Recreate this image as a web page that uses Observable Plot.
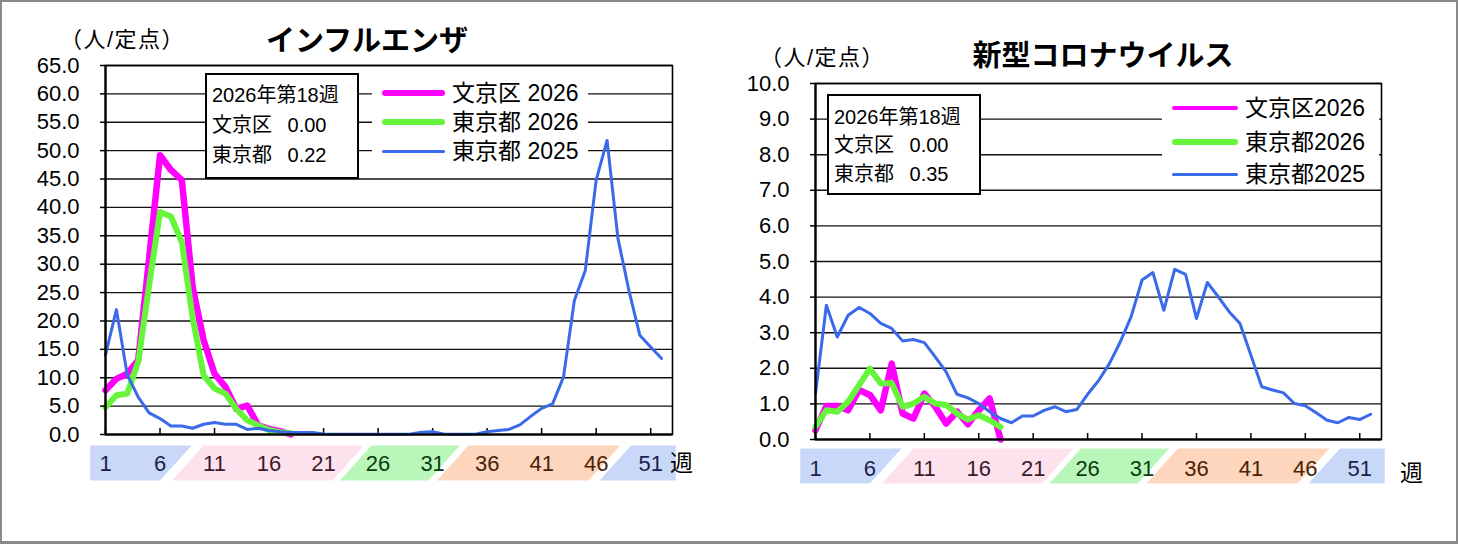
<!DOCTYPE html>
<html><head><meta charset="utf-8">
<script src="https://cdn.jsdelivr.net/npm/d3@7"></script>
<script src="https://cdn.jsdelivr.net/npm/@observablehq/plot@0.6"></script>
<style>
body{margin:0;background:#fff;}
#wrap{position:relative;width:1458px;height:544px;overflow:hidden;background:#fff;font-family:"Liberation Sans","Noto Sans CJK JP",sans-serif;color:#000;}
#frame{position:absolute;left:0;top:0;width:1458px;height:544px;box-sizing:border-box;border:2px solid #8a8a8a;border-bottom-width:3px;pointer-events:none;}
.abs{position:absolute;white-space:nowrap;}
.chart{position:absolute;top:0;}
.title{font-family:"Noto Sans CJK JP",sans-serif;font-weight:bold;font-size:29px;line-height:32px;transform:translateX(-50%);}
.unit{font-size:22px;line-height:22px;letter-spacing:1.5px;}
.box{background:#fff;border:2.5px solid #000;box-sizing:border-box;}
.boxt{font-size:20px;line-height:22px;}
.leg{background:#fff;}
.legt{font-size:23px;line-height:25px;}
.legl{height:6px;border-radius:3px;}
.wk{font-size:23px;line-height:25px;}
</style></head>
<body>
<div id="wrap"></div>
<script>
// ---------- data ----------
const tickWeeks = [1, 6, 11, 16, 21, 26, 31, 36, 41, 46, 51];
const fluTicks = [0, 5, 10, 15, 20, 25, 30, 35, 40, 45, 50, 55, 60, 65];
const covidTicks = [0, 1, 2, 3, 4, 5, 6, 7, 8, 9, 10];

const fluBunkyo2026 = [7.8, 9.8, 10.7, 13.1, 31.0, 49.2, 46.6, 44.8, 25.9, 16.6, 10.7, 8.4, 4.5, 5.1, 1.6, 1.0, 0.6, 0.0];
const fluTokyo2026 = [4.8, 6.9, 7.2, 12.8, 26.3, 39.2, 38.4, 33.9, 20.5, 10.4, 8.1, 7.2, 4.5, 2.5, 1.6, 0.8, 0.4, 0.22];
const fluTokyo2025 = [14.0, 22.0, 10.5, 6.6, 3.8, 2.8, 1.5, 1.5, 1.1, 1.8, 2.1, 1.8, 1.8, 0.9, 1.1, 0.7, 0.5, 0.35, 0.35, 0.35,
  0.1, 0.05, 0.05, 0.05, 0.05, 0.05, 0.05, 0.05, 0.1, 0.4, 0.5, 0.1, 0.05, 0.05, 0.1, 0.5, 0.7, 0.9, 1.7, 3.2,
  4.6, 5.4, 10.1, 23.6, 28.9, 44.8, 51.8, 34.5, 25.4, 17.5, 15.4, 13.4];

const covidBunkyo2026 = [0.26, 0.94, 0.94, 0.82, 1.39, 1.25, 0.82, 2.13, 0.73, 0.59, 1.29, 0.92, 0.45, 0.78, 0.43, 0.82, 1.15, 0.00];
const covidTokyo2026 = [0.36, 0.82, 0.78, 1.06, 1.53, 1.99, 1.57, 1.59, 0.92, 1.01, 1.20, 1.01, 0.97, 0.73, 0.56, 0.68, 0.54, 0.35];
const covidTokyo2025 = [1.29, 3.77, 2.88, 3.49, 3.71, 3.54, 3.26, 3.12, 2.77, 2.81, 2.72, 2.32, 1.90, 1.27, 1.17, 1.01, 0.78, 0.59, 0.47, 0.66,
  0.66, 0.82, 0.92, 0.78, 0.84, 1.27, 1.65, 2.13, 2.74, 3.45, 4.48, 4.69, 3.63, 4.78, 4.64, 3.40, 4.41, 4.01, 3.59, 3.26,
  2.37, 1.48, 1.39, 1.31, 1.01, 0.95, 0.75, 0.54, 0.47, 0.62, 0.56, 0.71];

// seasonal bands under the x axis (bottom-left / bottom-right week)
const seasonNames = ["冬", "春", "夏", "秋", "冬"];
const seasonFrom = [-0.4, 7.1, 22.5, 31.4, 46.3];
const seasonTo = [6.0, 21.8, 30.6, 45.3, 53.3];
const seasonFill = ["#c9d8f8", "#fde2ee", "#b9f6b9", "#fdd6bd", "#c9d8f8"];
const seasonText = ["#1a1f4d", "#3b1a2b", "#0c3d0c", "#4a2206", "#1a1f4d"];

const legendNames = ["文京区 2026", "東京都 2026", "東京都 2025"];
const legendNamesCovid = ["文京区2026", "東京都2026", "東京都2025"];
const seriesColors = ["#ff00ff", "#66f53a", "#3a6aeb"];
const seriesWidths = [6.5, 6, 3];

// ---------- helpers ----------
const toPts = arr => arr.map((v, i) => ({week: i + 1, value: v}));
const wrap = document.getElementById("wrap");
function addDiv(cls, text, style) {
  const d = document.createElement("div");
  d.className = "abs " + cls;
  if (text != null) d.textContent = text;
  Object.assign(d.style, style);
  wrap.appendChild(d);
  return d;
}

function makeChart(o) {
  const W = 729, H = 544;
  const plotH = H - o.mt - o.mb;
  const unit = o.ymax / plotH; // data units per pixel
  const yb = -o.bandBottom * unit, yt = -o.bandTop * unit, ym = (yb + yt) / 2;
  const slant = 2.9;
  const last = seasonFrom.length - 1;
  const marks = [];
  // bands
  seasonFrom.forEach((from, i) => {
    const to = seasonTo[i];
    const pts = [
      {x: from, y: yb},
      {x: to, y: yb},
      {x: i === last ? to : to + slant, y: yt},
      {x: i === 0 ? from : from + slant, y: yt}
    ];
    marks.push(Plot.line(pts, {x: "x", y: "y", fill: seasonFill[i], stroke: null, curve: "linear-closed"}));
  });
  const labelColor = w => {
    for (let i = 0; i < seasonFrom.length; i++) if (w <= seasonTo[i] + slant / 2) return seasonText[i];
    return seasonText[last];
  };
  marks.push(Plot.text(tickWeeks, {x: d => d, y: ym, text: d => String(d), fill: d => labelColor(d),
    fontSize: 22, dy: o.labelDy, fontFamily: "Liberation Sans"}));
  // grid
  marks.push(Plot.ruleY(o.ticks, {y: d => d, stroke: "#111", strokeWidth: 1.4}));
  // x ticks (inward)
  marks.push(Plot.ruleX(tickWeeks, {x: d => d, y1: 0, y2: 6 * unit, stroke: "#000", strokeWidth: 1.5}));
  // series
  marks.push(Plot.line(toPts(o.s1), {x: "week", y: "value", stroke: seriesColors[0], strokeWidth: seriesWidths[0], strokeLinejoin: "round"}));
  marks.push(Plot.line(toPts(o.s2), {x: "week", y: "value", stroke: seriesColors[1], strokeWidth: seriesWidths[1], strokeLinejoin: "round"}));
  marks.push(Plot.line(toPts(o.s3), {x: "week", y: "value", stroke: seriesColors[2], strokeWidth: seriesWidths[2], strokeLinejoin: "round"}));
  // frame & axes
  marks.push(Plot.frame({stroke: "#000", strokeWidth: 1.6}));
  marks.push(Plot.ruleX([1], {x: d => d, y1: 0, y2: o.ymax, stroke: "#000", strokeWidth: 2.2}));
  marks.push(Plot.ruleY([0], {y: d => d, stroke: "#000", strokeWidth: 2.2}));
  marks.push(Plot.axisY({ticks: o.ticks, tickFormat: d => d.toFixed(1), tickSize: 5, tickPadding: 21,
    fontSize: 22, label: null, fontFamily: "Liberation Sans", strokeWidth: 1.5}));
  const svg = Plot.plot({
    width: W, height: H,
    marginLeft: o.ml, marginRight: o.mr, marginTop: o.mt, marginBottom: o.mb,
    x: {domain: [1, 53], axis: null},
    y: {domain: [0, o.ymax], axis: null},
    style: {background: "transparent", color: "#000", overflow: "visible"},
    marks
  });
  const holder = document.createElement("div");
  holder.className = "chart";
  holder.style.left = o.left + "px";
  holder.appendChild(svg);
  wrap.appendChild(holder);
}

// ---------- left: influenza ----------
makeChart({left: 0, ml: 105, mr: 57, mt: 65, mb: 110, ymax: 65, ticks: fluTicks,
  s1: fluBunkyo2026, s2: fluTokyo2026, s3: fluTokyo2025, bandTop: 11, bandBottom: 46, labelDy: 1});
// ---------- right: covid ----------
makeChart({left: 729, ml: 86, mr: 77, mt: 83, mb: 105, ymax: 10, ticks: covidTicks,
  s1: covidBunkyo2026, s2: covidTokyo2026, s3: covidTokyo2025, bandTop: 9, bandBottom: 44, labelDy: 3});

// ---------- annotations ----------
addDiv("title", "インフルエンザ", {left: "367px", top: "22px"});
addDiv("title", "新型コロナウイルス", {left: "1103px", top: "37px"});
addDiv("unit", "（人/定点）", {left: "60px", top: "29px"});
addDiv("unit", "（人/定点）", {left: "760px", top: "47px"});
addDiv("wk", "週", {left: "670px", top: "451px"});
addDiv("wk", "週", {left: "1400px", top: "461px"});

// left info box
addDiv("box", null, {left: "205px", top: "73px", width: "154px", height: "106px"});
addDiv("boxt", "2026年第18週", {left: "212px", top: "84px"});
addDiv("boxt", "文京区\u2002 0.00", {left: "212px", top: "114px"});
addDiv("boxt", "東京都\u2002 0.22", {left: "212px", top: "144px"});
// right info box
addDiv("box", null, {left: "827px", top: "94px", width: "154px", height: "101px"});
addDiv("boxt", "2026年第18週", {left: "834px", top: "106px"});
addDiv("boxt", "文京区\u2002 0.00", {left: "834px", top: "134px"});
addDiv("boxt", "東京都\u2002 0.35", {left: "834px", top: "163px"});

// left legend
addDiv("leg", null, {left: "372px", top: "79px", width: "216px", height: "87px"});
[93, 122, 151].forEach((cy, i) => {
  addDiv("legl", null, {left: "382px", top: (cy - seriesWidths[i] / 2) + "px", width: "63px", height: seriesWidths[i] + "px", background: seriesColors[i]});
  addDiv("legt", legendNames[i], {left: "452px", top: (cy - 12.5) + "px"});
});
// right legend
addDiv("leg", null, {left: "1162px", top: "95px", width: "217px", height: "93px"});
[108, 142, 174].forEach((cy, i) => {
  const w = i === 0 ? 4 : seriesWidths[i];
  addDiv("legl", null, {left: "1172px", top: (cy - w / 2) + "px", width: "66px", height: w + "px", background: seriesColors[i]});
  addDiv("legt", legendNamesCovid[i], {left: "1245px", top: (cy - 12.5) + "px"});
});

const f = document.createElement("div"); f.id = "frame"; wrap.appendChild(f);
</script>
</body></html>
